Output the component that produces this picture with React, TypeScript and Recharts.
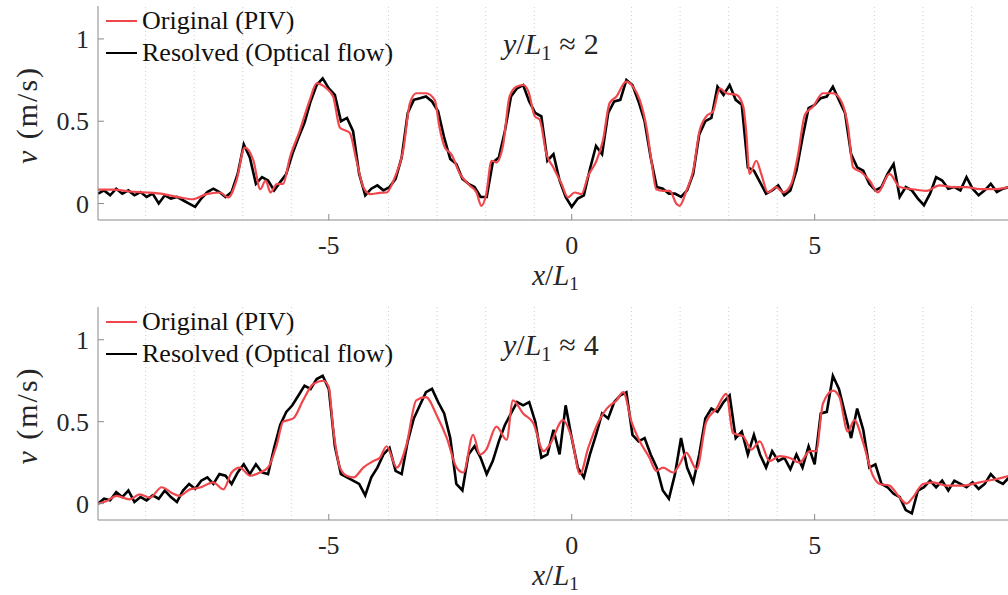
import React from 'react'
import { LineChart, Line, XAxis, YAxis, ReferenceLine, Legend } from 'recharts'

const FONT = '"Liberation Serif", "Times New Roman", serif'
const INK = '#262626'
const RED = '#f0474d'
const AXIS = '#8a8a8a'

const xTicks = [-5, 0, 5]
const yTicks = [0, 0.5, 1]
const xDomain: [number, number] = [-9.75, 9]
const yDomain: [number, number] = [-0.1, 1.2]
// dotted guide lines (one per L1, shifted off the integer ticks)
const gridX = [-8.77, -7.77, -6.77, -5.77, -3.77, -2.77, -1.77, -0.77, 1.23, 2.23, 3.23, 4.23, 6.23, 7.23, 8.23]

// sample positions of the optical flow profiles
const blackX = Array.from({ length: 151 }, (_, i) => -9.75 + i * 0.125)

// y/L1 ~ 2
const redTop: [number, number][] = [
  [-9.75, 0.085], [-9.44, 0.085], [-9.1, 0.073], [-8.75, 0.067], [-8.4, 0.057], [-8.07, 0.037], [-7.8, 0.026],
  [-7.52, 0.057], [-7.24, 0.067], [-7.07, 0.037], [-6.9, 0.14], [-6.73, 0.34], [-6.55, 0.26], [-6.41, 0.087],
  [-6.3, 0.14], [-6.2, 0.067], [-6.07, 0.118], [-5.94, 0.12], [-5.8, 0.28], [-5.6, 0.44], [-5.39, 0.63],
  [-5.25, 0.73], [-5.05, 0.7], [-4.91, 0.65], [-4.77, 0.46], [-4.57, 0.43], [-4.43, 0.26], [-4.29, 0.1],
  [-4.15, 0.057], [-3.95, 0.065], [-3.81, 0.067], [-3.64, 0.16], [-3.47, 0.32], [-3.33, 0.61], [-3.2, 0.67],
  [-3.0, 0.67], [-2.82, 0.63], [-2.72, 0.46], [-2.61, 0.34], [-2.48, 0.3], [-2.3, 0.18], [-2.1, 0.11],
  [-1.96, 0.067], [-1.86, -0.014], [-1.76, 0.057], [-1.65, 0.26], [-1.55, 0.25], [-1.41, 0.36], [-1.28, 0.65],
  [-1.14, 0.71], [-1.0, 0.72], [-0.89, 0.68], [-0.76, 0.53], [-0.66, 0.51], [-0.52, 0.3], [-0.38, 0.22],
  [-0.21, 0.12], [-0.08, 0.037], [0.06, 0.067], [0.2, 0.057], [0.34, 0.17], [0.51, 0.26], [0.64, 0.38],
  [0.78, 0.61], [0.92, 0.65], [1.12, 0.74], [1.26, 0.71], [1.4, 0.63], [1.54, 0.46], [1.64, 0.26],
  [1.74, 0.087], [1.88, 0.077], [2.02, 0.077], [2.15, 0.0], [2.22, -0.014], [2.36, 0.077], [2.5, 0.2],
  [2.63, 0.44], [2.77, 0.53], [2.91, 0.56], [3.05, 0.7], [3.18, 0.67], [3.39, 0.66], [3.53, 0.59],
  [3.59, 0.44], [3.66, 0.18], [3.8, 0.26], [3.9, 0.18], [4.04, 0.067], [4.21, 0.1], [4.35, 0.067],
  [4.52, 0.12], [4.66, 0.3], [4.8, 0.54], [4.97, 0.59], [5.17, 0.67], [5.38, 0.67], [5.55, 0.62],
  [5.69, 0.46], [5.79, 0.22], [5.96, 0.19], [6.13, 0.14], [6.3, 0.067], [6.54, 0.18], [6.75, 0.1],
  [7.02, 0.087], [7.3, 0.077], [7.57, 0.11], [7.85, 0.1], [8.12, 0.1], [8.4, 0.087], [8.67, 0.087], [9.0, 0.1],
]
const blackTop = [
  0.06, 0.08, 0.05, 0.09, 0.06, 0.08, 0.05, 0.07, 0.04, 0.06, 0.0, 0.05, 0.03, 0.04, 0.02, 0.0,
  -0.02, 0.03, 0.07, 0.09, 0.07, 0.04, 0.07, 0.18, 0.36, 0.28, 0.12, 0.16, 0.14, 0.08, 0.13, 0.18,
  0.3, 0.4, 0.49, 0.62, 0.72, 0.76, 0.7, 0.66, 0.5, 0.52, 0.44, 0.18, 0.05, 0.09, 0.11, 0.08,
  0.1, 0.15, 0.28, 0.55, 0.63, 0.64, 0.65, 0.62, 0.56, 0.4, 0.27, 0.24, 0.15, 0.12, 0.1, 0.04,
  0.04, 0.25, 0.28, 0.44, 0.65, 0.7, 0.72, 0.62, 0.55, 0.53, 0.26, 0.3, 0.14, 0.04, -0.02, 0.03,
  0.05, 0.21, 0.35, 0.3, 0.55, 0.62, 0.63, 0.75, 0.72, 0.62, 0.5, 0.28, 0.1, 0.09, 0.06, 0.06,
  0.04, 0.08, 0.18, 0.42, 0.5, 0.52, 0.71, 0.66, 0.72, 0.63, 0.6, 0.22, 0.2, 0.13, 0.06, 0.08,
  0.11, 0.05, 0.08, 0.2, 0.4, 0.58, 0.6, 0.64, 0.65, 0.71, 0.63, 0.55, 0.3, 0.22, 0.2, 0.12,
  0.08, 0.1, 0.18, 0.24, 0.04, 0.1, 0.08, 0.03, -0.01, 0.06, 0.16, 0.14, 0.09, 0.1, 0.08, 0.16,
  0.09, 0.05, 0.08, 0.12, 0.07, 0.09, 0.1,
]

// y/L1 ~ 4
const redBottom: [number, number][] = [
  [-9.75, 0.0], [-9.57, 0.016], [-9.37, 0.047], [-9.1, 0.026], [-8.89, 0.057], [-8.68, 0.037], [-8.44, 0.1],
  [-8.24, 0.067], [-8.07, 0.047], [-7.86, 0.087], [-7.65, 0.098], [-7.38, 0.13], [-7.17, 0.087], [-7.0, 0.19],
  [-6.83, 0.22], [-6.62, 0.17], [-6.42, 0.19], [-6.25, 0.22], [-6.07, 0.36], [-5.94, 0.5], [-5.73, 0.52],
  [-5.53, 0.63], [-5.32, 0.73], [-5.11, 0.75], [-5.0, 0.71], [-4.91, 0.46], [-4.77, 0.22], [-4.63, 0.17],
  [-4.49, 0.16], [-4.29, 0.22], [-4.08, 0.26], [-3.95, 0.28], [-3.81, 0.35], [-3.6, 0.22], [-3.4, 0.36],
  [-3.2, 0.63], [-3.0, 0.65], [-2.78, 0.54], [-2.57, 0.4], [-2.37, 0.22], [-2.23, 0.19], [-2.03, 0.42],
  [-1.89, 0.3], [-1.76, 0.33], [-1.55, 0.47], [-1.34, 0.39], [-1.21, 0.63], [-1.0, 0.55], [-0.79, 0.49],
  [-0.58, 0.32], [-0.45, 0.36], [-0.18, 0.51], [0.0, 0.4], [0.17, 0.18], [0.34, 0.34], [0.55, 0.5],
  [0.72, 0.58], [0.92, 0.63], [1.06, 0.68], [1.23, 0.5], [1.4, 0.38], [1.6, 0.28], [1.74, 0.2],
  [1.88, 0.22], [2.09, 0.19], [2.22, 0.24], [2.36, 0.31], [2.57, 0.21], [2.77, 0.5], [2.98, 0.58],
  [3.18, 0.67], [3.32, 0.43], [3.53, 0.41], [3.7, 0.33], [3.87, 0.38], [4.07, 0.26], [4.28, 0.29],
  [4.48, 0.28], [4.69, 0.25], [4.9, 0.32], [5.03, 0.32], [5.17, 0.61], [5.38, 0.69], [5.51, 0.65],
  [5.68, 0.44], [5.82, 0.51], [5.99, 0.38], [6.2, 0.17], [6.34, 0.12], [6.54, 0.11], [6.75, 0.037],
  [6.89, 0.0], [7.02, 0.037], [7.23, 0.12], [7.44, 0.13], [7.71, 0.11], [8.06, 0.11], [8.4, 0.13],
  [8.74, 0.15], [9.0, 0.17],
]
const blackBottom = [
  0.0, 0.03, 0.02, 0.07, 0.04, 0.08, 0.01, 0.04, 0.02, 0.05, 0.03, 0.08, 0.04, 0.01, 0.08, 0.12,
  0.09, 0.14, 0.16, 0.12, 0.18, 0.17, 0.12, 0.19, 0.24, 0.18, 0.24, 0.19, 0.18, 0.34, 0.48, 0.56,
  0.6, 0.66, 0.72, 0.7, 0.76, 0.78, 0.7, 0.35, 0.18, 0.16, 0.14, 0.12, 0.05, 0.16, 0.22, 0.3,
  0.34, 0.2, 0.18, 0.38, 0.52, 0.6, 0.68, 0.7, 0.62, 0.55, 0.4, 0.12, 0.08, 0.3, 0.35, 0.28,
  0.18, 0.26, 0.38, 0.48, 0.55, 0.62, 0.6, 0.62, 0.5, 0.28, 0.3, 0.45, 0.3, 0.6, 0.4, 0.22,
  0.16, 0.3, 0.42, 0.55, 0.52, 0.62, 0.66, 0.68, 0.42, 0.38, 0.4, 0.3, 0.22, 0.08, 0.03, 0.18,
  0.4, 0.22, 0.13, 0.3, 0.52, 0.58, 0.56, 0.62, 0.66, 0.4, 0.44, 0.3, 0.42, 0.3, 0.22, 0.32,
  0.26, 0.28, 0.21, 0.3, 0.22, 0.35, 0.24, 0.55, 0.56, 0.78, 0.7, 0.55, 0.4, 0.58, 0.45, 0.22,
  0.24, 0.12, 0.1, 0.06, 0.04, -0.04, -0.06, 0.08, 0.1, 0.14, 0.1, 0.14, 0.08, 0.14, 0.12, 0.1,
  0.13, 0.09, 0.12, 0.18, 0.14, 0.12, 0.16,
]

const legendRows = [
  { name: 'Original (PIV)', color: RED },
  { name: 'Resolved (Optical flow)', color: '#000' },
]

const pairsToRows = (pairs: [number, number][]) => pairs.map(([x, v]) => ({ x, v }))
const valuesToRows = (vals: number[]) => vals.map((v, i) => ({ x: blackX[i], v }))

const LegendBox = () => (
  <div style={{ fontFamily: FONT, fontSize: 26, color: '#111', lineHeight: '32px' }}>
    {legendRows.map((r) => (
      <div key={r.name} style={{ display: 'flex', alignItems: 'center', height: 32, whiteSpace: 'nowrap' }}>
        <svg width={36} height={4} style={{ flex: 'none' }}>
          <line x1={0} y1={2} x2={31} y2={2} stroke={r.color} strokeWidth={2} />
        </svg>
        <span>{r.name}</span>
      </div>
    ))}
  </div>
)

const XTitle = (props: any) => {
  const { x, y, width } = props.viewBox
  return (
    <text x={x + width / 2 + 2} y={y + 65} textAnchor="middle" fontFamily={FONT} fontSize={29} fill={INK}>
      <tspan fontStyle="italic">x</tspan>
      <tspan>/</tspan>
      <tspan fontStyle="italic">L</tspan>
      <tspan fontSize={19} dy={5}>1</tspan>
    </text>
  )
}

const YTitle = (props: any) => {
  const { y, height } = props.viewBox
  const cy = y + height / 2 + 2
  return (
    <text x={37} y={cy} transform={`rotate(-90 37 ${cy})`} textAnchor="middle" fontFamily={FONT} fontSize={30}
      letterSpacing={2} fill={INK}>
      <tspan fontStyle="italic">v</tspan>
      <tspan>  (m/s)</tspan>
    </text>
  )
}

interface PanelProps {
  red: [number, number][]
  black: number[]
  level: string
  height: number
  top: number
  axisHeight: number
}

const Panel: React.FC<PanelProps> = ({ red, black, level, height, top, axisHeight }) => (
  <div style={{ position: 'relative', width: 1020, height }}>
    <LineChart width={1020} height={height} margin={{ top, right: 11, bottom: 0, left: 0 }}>
      <XAxis
        xAxisId="b"
        type="number"
        dataKey="x"
        domain={xDomain}
        allowDataOverflow
        ticks={xTicks}
        tickSize={-6}
        tickMargin={22}
        height={axisHeight}
        stroke={AXIS}
        tick={{ fill: INK, fontSize: 26, fontFamily: FONT }}
        label={<XTitle />}
      />
      <XAxis xAxisId="t" orientation="top" type="number" dataKey="x" domain={xDomain} allowDataOverflow
        ticks={xTicks} tick={false} tickSize={-6} height={0} stroke={AXIS} />
      <YAxis
        type="number"
        domain={yDomain}
        allowDataOverflow
        ticks={yTicks}
        width={98}
        tickSize={-6}
        tickMargin={15}
        stroke={AXIS}
        tick={{ fill: INK, fontSize: 26, fontFamily: FONT }}
        label={<YTitle />}
      />
      <YAxis yAxisId="r" orientation="right" type="number" domain={yDomain} allowDataOverflow
        ticks={yTicks} tick={false} tickSize={-6} width={0} stroke={AXIS} />
      {gridX.map((g) => (
        <ReferenceLine key={g} xAxisId="b" x={g} stroke="#cfcfcf" strokeDasharray="1 3" />
      ))}
      <Line xAxisId="b" data={valuesToRows(black)} dataKey="v" name="Resolved (Optical flow)" type="linear"
        stroke="#000" strokeWidth={2.6} dot={false} isAnimationActive={false} />
      <Line xAxisId="b" data={pairsToRows(red)} dataKey="v" name="Original (PIV)" type="monotone"
        stroke={RED} strokeWidth={2.2} dot={false} isAnimationActive={false} />
      <Legend content={<LegendBox />} layout="vertical" align="center" verticalAlign="middle"
        wrapperStyle={{ position: 'absolute', top: top - 1, left: 106, width: 'auto', height: 'auto' }} />
    </LineChart>
    <div style={{ position: 'absolute', left: 503, top: top + 20, fontFamily: FONT, fontSize: 30,
      lineHeight: '36px', color: INK, whiteSpace: 'nowrap' }}>
      <i>y</i>/<i>L</i><span style={{ fontSize: 20, position: 'relative', top: 6 }}>1</span>
      <span style={{ marginLeft: 8 }}>≈</span>
      <span style={{ marginLeft: 8 }}>{level}</span>
    </div>
  </div>
)

export default function App() {
  return (
    <div style={{ position: 'absolute', left: 0, top: 0, width: 1008, height: 595, overflow: 'hidden', background: '#fff' }}>
      <Panel red={redTop} black={blackTop} level="2" height={300} top={6} axisHeight={80} />
      <Panel red={redBottom} black={blackBottom} level="4" height={295} top={7} axisHeight={75} />
    </div>
  )
}
